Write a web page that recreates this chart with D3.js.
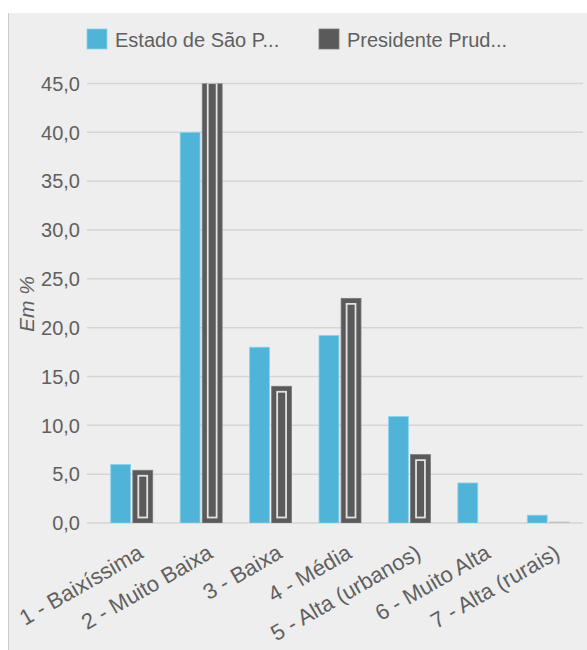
<!DOCTYPE html>
<html>
<head>
<meta charset="utf-8">
<script src="https://cdn.jsdelivr.net/npm/d3@7"></script>
<style>
  html, body { margin: 0; padding: 0; background: #fff; }
  svg { display: block; font-family: "Liberation Sans", Arial, sans-serif; }
</style>
</head>
<body>
<div id="chart"></div>
<script>
// categories and series (Em %)
var categories = ["1 - Baixíssima", "2 - Muito Baixa", "3 - Baixa", "4 - Média",
  "5 - Alta (urbanos)", "6 - Muito Alta", "7 - Alta (rurais)"];
var seriesNames = ["Estado de São P...", "Presidente Prud..."];
var estadoSP = [6.0, 40.0, 18.0, 19.2, 10.9, 4.1, 0.8];
var presPrudente = [5.4, 45.6, 14.0, 23.0, 7.0, 0, 0.1];
var yTicks = [0, 5, 10, 15, 20, 25, 30, 35, 40, 45];

var width = 587, height = 650;
var blue = "#4fb4d8", dark = "#5a5a5a";
var fmt = function(v) { return d3.format(".1f")(v).replace(".", ","); };

var svg = d3.select("#chart").append("svg").attr("width", width).attr("height", height);

// panel background
svg.append("rect").attr("x", 8).attr("y", 13).attr("width", width - 8).attr("height", height - 13)
  .attr("fill", "#eeeeee");
svg.append("line").attr("x1", 8.5).attr("x2", 8.5).attr("y1", 13).attr("y2", height)
  .attr("stroke", "#cccccc").attr("stroke-width", 1);

var x0 = d3.scaleBand().domain(categories).range([97, 583]);
var x1 = d3.scaleBand().domain(seriesNames).range([-21, 21]).paddingInner(0.1);
var y = d3.scaleLinear().domain([0, 45]).range([523, 83.5]);

// gridlines
svg.append("g").selectAll("line").data(yTicks).enter().append("line")
  .attr("x1", 87).attr("x2", 583)
  .attr("y1", function(d) { return y(d); }).attr("y2", function(d) { return y(d); })
  .attr("stroke", "#d5d5d5").attr("stroke-width", 1.5);

// y tick labels
svg.append("g").selectAll("text").data(yTicks).enter().append("text")
  .attr("x", 80).attr("y", function(d) { return y(d); }).attr("dy", "0.36em")
  .attr("text-anchor", "end").attr("font-size", 20).attr("fill", "#606060")
  .text(fmt);

// y axis title
svg.append("text").attr("transform", "translate(34,304) rotate(-90)")
  .attr("text-anchor", "middle").attr("font-size", 21).attr("font-style", "italic")
  .attr("fill", "#606060").text("Em %");

svg.append("clipPath").attr("id", "plot").append("rect")
  .attr("x", 87).attr("y", y(45)).attr("width", 496).attr("height", y(0) - y(45));

var plot = svg.append("g").attr("clip-path", "url(#plot)");

// Estado de São Paulo bars
plot.selectAll(".sp").data(estadoSP).enter().append("rect").attr("class", "sp")
  .attr("x", function(d, i) { return x0(categories[i]) + x0.bandwidth() / 2 + x1(seriesNames[0]); })
  .attr("width", x1.bandwidth())
  .attr("y", function(d) { return y(d); })
  .attr("height", function(d) { return y(0) - y(d); })
  .attr("fill", blue).attr("stroke", "#8fd2ec").attr("stroke-width", 0.8);

// Presidente Prudente bars (dark with inner light outline)
var ppData = presPrudente.map(function(v, i) { return { cat: categories[i], v: v }; })
  .filter(function(d) { return d.v > 0; });
var barX = function(d) { return x0(d.cat) + x0.bandwidth() / 2 + x1(seriesNames[1]); };
var pp = plot.selectAll(".pp").data(ppData).enter().append("g").attr("class", "pp");
pp.append("rect")
  .attr("x", barX)
  .attr("width", x1.bandwidth())
  .attr("y", function(d) { return y(d.v); })
  .attr("height", function(d) { return y(0) - y(d.v); })
  .attr("fill", function(d) { return y(0) - y(d.v) < 4 ? "#b5b5b5" : dark; })
  .attr("stroke", function(d) { return y(0) - y(d.v) < 4 ? "#c5c5c5" : "#7a7a7a"; })
  .attr("stroke-width", 0.8);
pp.filter(function(d) { return y(0) - y(d.v) > 14; }).append("rect")
  .attr("x", function(d) { return barX(d) + 5.5; })
  .attr("width", x1.bandwidth() - 11)
  .attr("y", function(d) { return y(d.v) + 5.5; })
  .attr("height", function(d) { return y(0) - y(d.v) - 11; })
  .attr("fill", "none").attr("stroke", "#e2e2e2").attr("stroke-width", 1.8);

// x labels
svg.append("g").selectAll("text").data(categories).enter().append("text")
  .attr("transform", function(d) { return "translate(" + (x0(d) + x0.bandwidth() / 2 + 13) + ",557) rotate(-30)"; })
  .attr("text-anchor", "end").attr("font-size", 22).attr("fill", "#606060")
  .text(function(d) { return d; });

// legend
var legend = svg.append("g");
var legX = [87, 319];
seriesNames.forEach(function(name, i) {
  legend.append("rect").attr("x", legX[i]).attr("y", 29).attr("width", 20).attr("height", 20)
    .attr("fill", i === 0 ? blue : dark).attr("stroke", i === 0 ? "#8fd2ec" : "#7a7a7a").attr("stroke-width", 0.8);
  legend.append("text").attr("x", legX[i] + 28).attr("y", 47).attr("font-size", 20)
    .attr("fill", "#606060").text(name);
});
</script>
</body>
</html>
